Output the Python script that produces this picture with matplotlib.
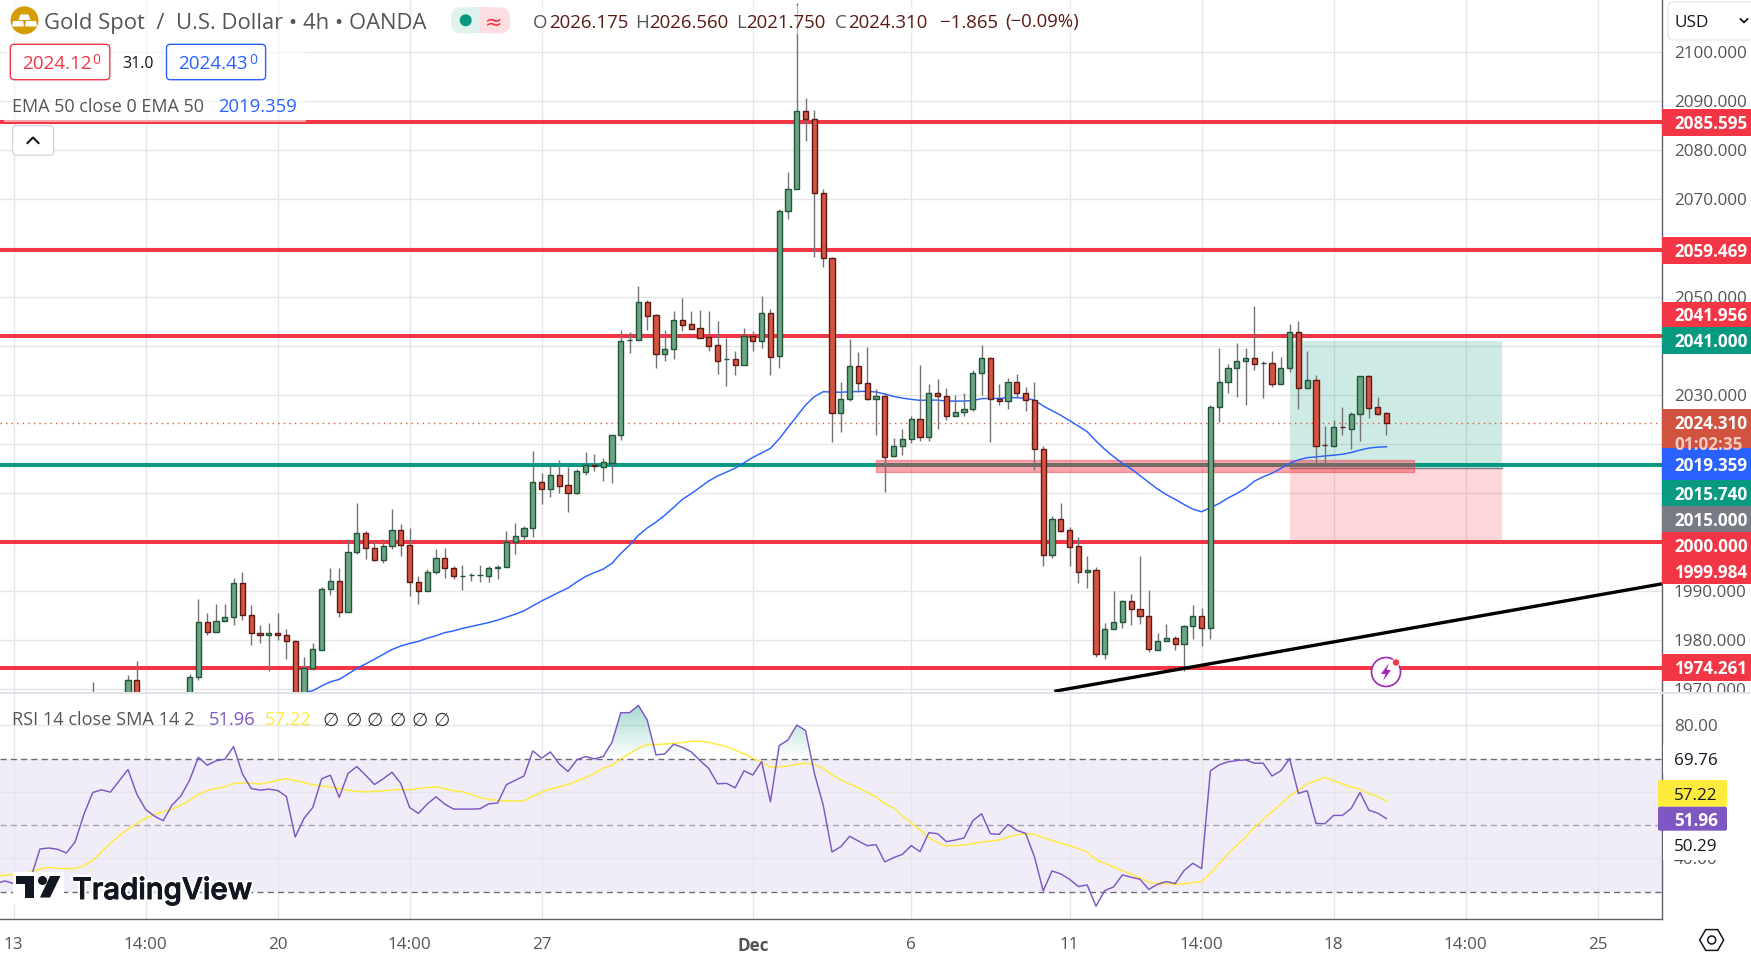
##Gold spot 4h chart, TradingView style
import numpy as np
import matplotlib as mpl
mpl.use("Agg")
import matplotlib.pyplot as plt
from matplotlib.patches import Rectangle, Circle, Polygon, FancyBboxPatch, RegularPolygon
from matplotlib.path import Path
from matplotlib.transforms import Affine2D
import matplotlib.patheffects as pe

#-----------------Data----------------------------------------------
bar_num = [9, 13, 14, 20] + list(range(21, 157))

opens = [1966, 1966, 1971.7, 1965,
 1972.3, 1983.55, 1981.5, 1983.75, 1984.6, 1991.5, 1985.0, 1981.3, 1980.9, 1981.3,
 1980.9, 1979.7, 1966, 1974.2, 1978.0, 1990.3, 1991.9, 1985.6, 1997.8, 2001.7,
 1998.65, 1996.3, 1999.05, 2002.3, 1999.25, 1991.85, 1990.0, 1993.75, 1996.6, 1994.6,
 1992.95, 1993.15, 1993.15, 1993.1, 1994.6, 1994.8, 1999.9, 2001.1, 2002.75, 2012.1,
 2010.8, 2013.55, 2011.5, 2010.0, 2014.3, 2015.6, 2015.3, 2016.1, 2021.7, 2041.1,
 2041.1, 2048.85, 2046.2, 2038.4, 2039.25, 2045.2, 2044.35, 2043.55, 2041.7, 2040.1,
 2037.2, 2037.2, 2036.1, 2041.9, 2041.0, 2046.6, 2037.8, 2067.4, 2071.9, 2087.85,
 2086.2, 2071.1, 2057.8, 2026.2, 2029.05, 2035.8, 2032.3, 2029.05, 2029.65, 2017.4,
 2019.45, 2020.9, 2025.0, 2021.3, 2030.3, 2029.7, 2025.6, 2026.4, 2027.0, 2034.4,
 2037.4, 2029.05, 2028.65, 2032.5, 2030.3, 2028.85, 2018.85, 1997.35, 2004.55, 2002.3,
 1999.05, 1993.75, 1994.15, 1977.0, 1982.1, 1983.55, 1987.8, 1986.2, 1984.75, 1978.0,
 1979.65, 1980.3, 1979.05, 1982.7, 1984.75, 1982.3, 2027.55, 2032.5, 2035.4, 2036.8,
 2037.4, 2036.4, 2036.4, 2032.25, 2035.4, 2042.75, 2031.45, 2032.95, 2019.7, 2019.6,
 2023.4, 2023.05, 2026.0, 2033.75, 2027.4, 2026.175]

highs = [1971.4, 1972.8, 1975.6, 1973.1,
 1988.3, 1985.4, 1987.3, 1987.3, 1992.5, 1993.75, 1987.1, 1983.0, 1983.4, 1985.4,
 1982.2, 1979.9, 1976.5, 1979.3, 1990.7, 1994.6, 1994.6, 2000.5, 2007.9, 2002.2,
 2000.1, 2000.5, 2006.7, 2003.6, 2002.8, 1993.0, 1994.35, 1998.5, 1998.7, 1995.0,
 1995.25, 1993.55, 1995.25, 1995.0, 1995.25, 2002.2, 2003.8, 2003.2, 2018.5, 2014.0,
 2015.6, 2016.7, 2015.25, 2014.8, 2018.3, 2017.9, 2017.1, 2021.7, 2043.2, 2042.8,
 2052.2, 2049.3, 2046.5, 2043.2, 2047.1, 2049.75, 2047.1, 2047.3, 2047.1, 2045.05,
 2041.55, 2038.9, 2043.6, 2043.0, 2050.15, 2047.5, 2067.85, 2075.4, 2110.0, 2090.55,
 2088.1, 2072.0, 2058.1, 2032.6, 2041.4, 2038.7, 2039.75, 2031.1, 2030.3, 2021.1,
 2023.0, 2025.6, 2036.0, 2032.2, 2033.15, 2031.3, 2029.9, 2030.3, 2035.0, 2040.15,
 2037.6, 2032.2, 2033.35, 2034.15, 2031.5, 2032.5, 2019.45, 2005.15, 2008.0, 2002.9,
 2000.9, 1997.1, 1994.75, 1983.35, 1989.85, 1988.2, 1989.25, 1997.0, 1990.05, 1981.3,
 1983.15, 1980.7, 1982.9, 1987.0, 1986.4, 2028.0, 2039.5, 2036.25, 2040.55, 2039.45,
 2048.1, 2036.9, 2038.9, 2037.7, 2044.45, 2045.05, 2038.9, 2034.05, 2023.6, 2024.85,
 2027.5, 2026.5, 2033.75, 2034.0, 2029.5, 2026.56]

lows = [1960, 1962, 1963, 1962,
 1971.8, 1981.0, 1981.5, 1983.75, 1983.1, 1983.95, 1979.0, 1979.4, 1973.7, 1980.0,
 1976.1, 1960, 1960, 1973.9, 1978.0, 1989.2, 1984.6, 1985.6, 1997.5, 1996.5,
 1996.1, 1995.65, 1998.6, 1997.1, 1988.9, 1987.3, 1990.0, 1993.4, 1992.6, 1992.3,
 1990.2, 1992.05, 1991.8, 1991.8, 1992.4, 1994.8, 1997.5, 2000.4, 2001.0, 2007.7,
 2009.1, 2010.0, 2006.05, 2009.7, 2013.6, 2014.4, 2012.4, 2012.05, 2020.75, 2038.5,
 2041.1, 2043.2, 2035.45, 2036.9, 2037.3, 2043.0, 2043.5, 2041.65, 2038.9, 2034.2,
 2031.8, 2034.0, 2036.1, 2038.9, 2039.5, 2034.0, 2035.5, 2065.9, 2071.9, 2081.8,
 2058.1, 2056.1, 2020.35, 2022.4, 2028.8, 2030.6, 2028.85, 2021.8, 2010.2, 2017.2,
 2017.6, 2020.1, 2020.5, 2020.5, 2022.95, 2024.8, 2025.6, 2025.6, 2026.6, 2029.9,
 2020.35, 2028.0, 2027.15, 2029.5, 2026.75, 2014.6, 1995.1, 1996.75, 2002.05, 1995.1,
 1991.65, 1990.6, 1976.55, 1976.15, 1982.1, 1982.45, 1983.05, 1983.15, 1977.55, 1978.0,
 1979.65, 1978.0, 1973.55, 1980.05, 1978.8, 1980.05, 2024.35, 2030.35, 2029.6, 2027.9,
 2035.05, 2029.3, 2031.55, 2032.25, 2034.65, 2027.1, 2031.45, 2015.85, 2015.85, 2019.4,
 2021.75, 2018.9, 2020.55, 2025.2, 2025.85, 2021.75]

closes = [1967, 1971.7, 1964, 1972.3,
 1983.55, 1981.5, 1983.75, 1984.6, 1991.5, 1985.0, 1981.3, 1980.9, 1981.3, 1980.9,
 1979.7, 1966, 1974.2, 1978.0, 1990.3, 1991.9, 1985.6, 1997.8, 2001.7, 1998.65,
 1996.3, 1999.05, 2002.3, 1999.25, 1991.85, 1990.0, 1993.75, 1996.6, 1994.6, 1992.95,
 1992.95, 1993.2, 1993.2, 1994.55, 1994.8, 1999.9, 2001.1, 2002.75, 2012.1, 2010.8,
 2013.55, 2011.45, 2010.0, 2014.35, 2015.6, 2015.4, 2016.2, 2021.7, 2040.9, 2041.15,
 2048.85, 2046.1, 2038.4, 2039.25, 2045.2, 2044.3, 2043.5, 2041.65, 2040.0, 2036.95,
 2037.25, 2036.1, 2041.9, 2041.0, 2046.6, 2037.75, 2067.4, 2071.9, 2087.85, 2086.2,
 2071.1, 2057.8, 2026.2, 2029.05, 2035.8, 2032.3, 2029.05, 2029.65, 2017.35, 2019.45,
 2020.9, 2025.0, 2021.3, 2030.3, 2029.7, 2025.6, 2026.4, 2027.0, 2034.4, 2037.4,
 2029.05, 2028.65, 2032.5, 2030.3, 2028.85, 2018.85, 1997.35, 2004.55, 2002.25, 1999.0,
 1993.75, 1994.15, 1977.0, 1982.1, 1983.55, 1987.8, 1986.2, 1984.75, 1978.0, 1979.65,
 1980.3, 1979.05, 1982.7, 1984.75, 1982.3, 2027.55, 2032.5, 2035.4, 2036.8, 2037.4,
 2036.2, 2036.45, 2032.25, 2035.4, 2042.75, 2031.45, 2032.95, 2019.6, 2019.65, 2023.35,
 2023.35, 2026.0, 2033.75, 2027.35, 2026.15, 2024.31]

ema_first_bar = 32
ema_values = [1968.5, 1969.2, 1969.6, 1970.55, 1971.4, 1971.9, 1973.0, 1974.15, 1975.05, 1976.0,
 1977.0, 1978.0, 1978.7, 1979.25, 1979.65, 1980.3, 1980.8, 1981.45, 1981.8, 1982.3,
 1982.7, 1983.1, 1983.5, 1984.0, 1984.6, 1985.2, 1985.9, 1986.9, 1987.9, 1988.8,
 1989.7, 1990.55, 1991.8, 1992.9, 1993.7, 1994.4, 1995.6, 1997.6, 1999.3, 2001.3,
 2002.8, 2004.0, 2005.4, 2007.0, 2008.65, 2009.8, 2011.1, 2012.4, 2013.4, 2014.2,
 2015.0, 2016.1, 2017.2, 2018.1, 2019.05, 2021.0, 2023.3, 2025.6, 2027.9, 2029.6,
 2030.6, 2030.55, 2030.5, 2030.6, 2030.65, 2030.7, 2030.55, 2030.15, 2029.65, 2029.3,
 2029.05, 2028.85, 2028.9, 2028.9, 2028.7, 2028.7, 2028.7, 2028.8, 2029.2, 2029.25,
 2029.25, 2029.4, 2029.4, 2029.25, 2028.9, 2027.7, 2026.75, 2025.8, 2024.7, 2023.6,
 2022.45, 2020.55, 2018.85, 2017.35, 2016.0, 2014.85, 2013.5, 2012.1, 2010.75, 2009.6,
 2008.65, 2007.6, 2006.65, 2006.1, 2006.95, 2007.8, 2008.9, 2009.85, 2010.9, 2012.35,
 2013.25, 2013.95, 2014.95, 2016.0, 2016.7, 2017.15, 2017.3, 2017.5, 2017.65, 2017.85,
 2018.2, 2018.7, 2019.1, 2019.3, 2019.36]

rsi_first_bar = -2
rsi_values = [32.4, 33.2, 32.4, 31.5, 34.5, 42.8, 43.1, 42.7, 41.6, 45.0,
 53.3, 59.8, 60.6, 59.9, 63.3, 66.7, 59.3, 54.7, 52.7, 51.3,
 56.0, 58.7, 63.5, 70.4, 68.0, 69.3, 69.8, 73.6, 65.4, 61.0,
 60.5, 60.8, 60.4, 58.6, 46.4, 52.0, 55.3, 63.9, 65.0, 58.3,
 65.5, 67.6, 65.0, 62.2, 63.9, 65.9, 62.5, 55.3, 53.5, 56.3,
 58.5, 56.3, 54.8, 54.8, 54.8, 54.9, 56.4, 56.6, 62.15, 63.45,
 64.75, 72.3, 70.1, 72.0, 68.4, 66.1, 69.6, 70.6, 69.9, 70.6,
 74.9, 83.8, 83.8, 86.0, 81.6, 71.1, 71.4, 74.3, 73.4, 72.0,
 69.4, 67.0, 62.4, 62.55, 61.2, 66.3, 65.05, 69.1, 57.0, 73.9,
 75.6, 80.1, 78.4, 65.55, 56.0, 41.9, 43.5, 46.6, 45.2, 43.8,
 44.1, 38.9, 40.2, 41.2, 43.8, 42.0, 47.7, 47.4, 45.0, 45.5,
 46.1, 51.3, 53.4, 47.4, 47.2, 50.2, 48.4, 47.5, 40.5, 30.2,
 36.2, 35.3, 33.7, 31.5, 32.0, 25.6, 30.3, 31.4, 35.0, 34.3,
 33.7, 30.65, 32.2, 33.0, 32.4, 36.3, 38.5, 36.9, 66.3, 68.1,
 69.0, 69.4, 69.6, 68.6, 68.6, 64.75, 66.3, 70.0, 59.5, 60.35,
 50.5, 50.4, 52.9, 52.9, 55.0, 59.8, 54.5, 53.6, 51.96]

sma_values = [34.5, 34.9, 35.2, 35.3, 35.9, 36.8, 37.2, 37.0, 36.9, 36.9,
 37.8, 39.4, 42.0, 44.5, 46.9, 48.7, 50.5, 52.0, 53.2, 54.0,
 54.8, 56.0, 57.5, 59.2, 60.4, 61.0, 61.5, 62.5, 62.7, 62.6,
 62.3, 62.8, 63.5, 64.0, 63.4, 62.8, 62.1, 61.7, 61.5, 60.9,
 60.5, 60.1, 60.0, 60.1, 60.3, 60.6, 60.7, 60.6, 61.0, 61.3,
 61.5, 60.9, 60.3, 60.0, 59.2, 58.3, 57.7, 57.4, 57.3, 57.2,
 57.3, 58.7, 59.9, 60.9, 61.5, 62.2, 63.3, 64.3, 65.5, 67.1,
 68.0, 69.9, 71.6, 73.1, 74.3, 74.2, 74.4, 74.6, 74.8, 75.2,
 75.2, 74.9, 74.2, 73.6, 72.5, 71.4, 70.1, 68.9, 67.4, 67.5,
 67.8, 68.3, 68.6, 68.2, 67.1, 65.05, 63.55, 62.35, 61.25, 59.75,
 58.5, 56.4, 55.2, 52.7, 50.7, 48.5, 46.2, 44.7, 43.7, 43.8,
 44.0, 44.4, 44.9, 45.2, 45.5, 46.4, 47.0, 47.4, 47.2, 46.2,
 45.3, 44.5, 43.8, 42.9, 41.9, 39.5, 38.5, 37.3, 36.3, 35.2,
 34.1, 32.8, 32.4, 32.4, 32.2, 32.3, 32.7, 33.0, 35.5, 38.5,
 41.3, 43.9, 46.4, 49.3, 51.7, 54.0, 56.3, 58.7, 60.5, 62.35,
 63.35, 64.35, 63.35, 62.35, 61.45, 60.75, 59.55, 58.55, 57.22]

red_levels = [2085.595, 2059.469, 2041.956, 2000.0, 1974.261]
teal_level = 2015.74
last_price = 2024.31

zone_bars = [98.0, 159.1]
zone_prices = [2014.3, 2016.6]
position_bars = [145.0, 169.1]
position_target = 2041.0
position_entry = 2015.0
position_stop = 2000.0
trend_bars = [118.26, 187.3]
trend_prices = [1969.47, 1991.4]

price_ticks = list(range(1970, 2101, 10))
price_shown = [2100, 2090, 2080, 2070, 2050, 2030, 1990, 1980, 1970]   #rest sit under the badges
rsi_ticks = [40, 80]
rsi_grid = [40, 60, 80]
rsi_bands = [70, 50, 30]
date_bars = [0, 15, 30, 45, 60, 84, 102, 120, 135, 150, 165, 180]
date_labels = ['13', '14:00', '20', '14:00', '27', 'Dec', '6', '11', '14:00', '18', '14:00', '25']

#----------------Colours--------------------------------------------
FONT = 'Open Sans'
RED = '#F23645'
TEAL = '#089981'
BLUE = '#2962FF'
PURPLE = '#7E57C2'
YELLOW = '#FFEB3B'
GRID = '#E6E6E8'
AXIS = '#5D606B'
LABEL = '#555555'
plt.rcParams['font.family'] = FONT

W, H = 1751, 960
X_AXIS, MAIN_B, RSI_T, RSI_B = 1662, 692, 694, 919

fig = plt.figure(figsize=(W/100, H/100), dpi=100, facecolor='white')
px = Affine2D().scale(1/W, -1/H).translate(0, 1) + fig.transFigure   #pixel coords for the chrome

def addRect(x0, y0, x1, y1, color, z=5, **kw):
    fig.add_artist(Rectangle((x0, y0), x1-x0, y1-y0, transform=px, facecolor=color, edgecolor='none', zorder=z, **kw))

def addRound(x0, y0, x1, y1, face, edge, r=4, z=5, lw=0.8):
    fig.add_artist(FancyBboxPatch((x0, y0), x1-x0, y1-y0, boxstyle='round,pad=0,rounding_size=%s' % r,
                                  transform=px, facecolor=face, edgecolor=edge, linewidth=lw, zorder=z))

def addText(x, y, s, size=12.3, color=LABEL, ha='left', z=6, **kw):
    return fig.text(x, y, s, transform=px, fontsize=size, color=color, ha=ha, va='center_baseline', zorder=z, **kw)

#----------------Main pane-------------------------------------------
bar_to_x = lambda p: (p-13.6)/8.8
ax = fig.add_axes([0, 1-MAIN_B/H, X_AXIS/W, MAIN_B/H], zorder=0)
ax.set_xlim(bar_to_x(0), bar_to_x(X_AXIS))
ax.set_ylim(2100-(MAIN_B-51.7)/4.9, 2100+51.7/4.9)

ax.set_xticks(date_bars)
ax.set_xticklabels([])
ax.set_yticks(price_ticks)
ax.set_yticklabels(['%.3f' % t if t in price_shown else '' for t in price_ticks])
ax.grid(True, color=GRID, linewidth=1.0, zorder=0)
ax.set_axisbelow(True)
ax.yaxis.tick_right()
ax.tick_params(axis='y', length=0, pad=8.6, labelsize=12.3, labelcolor=LABEL)
ax.tick_params(axis='x', length=0)
for side in ['top', 'left', 'bottom']:
    ax.spines[side].set_visible(False)
ax.spines['right'].set_color(AXIS)
ax.spines['right'].set_linewidth(1.0)

#long position box
ax.add_patch(Rectangle((position_bars[0], position_entry), position_bars[1]-position_bars[0], position_target-position_entry,
                       facecolor=TEAL, alpha=0.2, edgecolor='none', zorder=1.2))
ax.add_patch(Rectangle((position_bars[0], position_stop), position_bars[1]-position_bars[0], position_entry-position_stop,
                       facecolor=RED, alpha=0.2, edgecolor='none', zorder=1.2))
ax.plot(position_bars, [position_entry, position_entry], color='#787B86', lw=1.0, zorder=1.3)

for level in red_levels:
    ax.axhline(level, color=RED, lw=2.9, zorder=2, solid_capstyle='butt')
ax.axhline(teal_level, color=TEAL, lw=2.9, zorder=2, solid_capstyle='butt')
ax.axhline(last_price, color='#E4553F', lw=1.0, ls=(0, (1, 3)), zorder=2)

ax.add_patch(Rectangle((zone_bars[0], zone_prices[0]), zone_bars[1]-zone_bars[0], zone_prices[1]-zone_prices[0],
                       facecolor=RED, alpha=0.45, edgecolor=RED, linewidth=0.9, zorder=2.5))

ema_x = np.arange(ema_first_bar, ema_first_bar+len(ema_values))
ax.plot(ema_x, ema_values, color=BLUE, lw=1.05, zorder=3)

#candles
bar_x = np.array(bar_num)
o, h, l, c = map(np.array, (opens, highs, lows, closes))
up = c >= o
ax.vlines(bar_x, l, h, color='#737375', lw=1.0, zorder=4)
ax.bar(bar_x[up], (c-o)[up], bottom=o[up], width=0.58, color='#6BA583', edgecolor='#225437', linewidth=1.0, zorder=5)
ax.bar(bar_x[~up], (c-o)[~up], bottom=o[~up], width=0.58, color='#D75442', edgecolor='#5B1A13', linewidth=1.0, zorder=5)

ax.plot(trend_bars, trend_prices, color='black', lw=2.4, zorder=6, solid_capstyle='butt')

#----------------RSI pane--------------------------------------------
rsi_y = lambda p: 80-(p-725.3)/3.325
axr = fig.add_axes([0, 1-RSI_B/H, X_AXIS/W, (RSI_B-RSI_T)/H], zorder=2)
axr.set_xlim(ax.get_xlim())
axr.set_ylim(rsi_y(RSI_B), rsi_y(RSI_T))
axr.set_xticks(date_bars)
axr.set_xticklabels(date_labels)
for lab in axr.get_xticklabels():
    if lab.get_text() == 'Dec':
        lab.set_fontweight('bold')
axr.set_yticks(rsi_grid)
axr.set_yticklabels(['%.2f' % t if t in rsi_ticks else '' for t in rsi_grid])
axr.grid(True, color=GRID, linewidth=1.0, zorder=0)
axr.set_axisbelow(True)
axr.yaxis.tick_right()
axr.tick_params(axis='y', length=0, pad=8.6, labelsize=12.3, labelcolor=LABEL)
axr.tick_params(axis='x', length=0, pad=13, labelsize=12.3, labelcolor=LABEL)
for side in ['top', 'left']:
    axr.spines[side].set_visible(False)
for side in ['right', 'bottom']:
    axr.spines[side].set_color(AXIS)
    axr.spines[side].set_linewidth(1.0)

axr.axhspan(rsi_bands[2], rsi_bands[0], facecolor=PURPLE, alpha=0.1, edgecolor='none', zorder=0.5)
for band, col in zip(rsi_bands, ['#6E6C7A', '#A5A3B0', '#6E6C7A']):
    axr.axhline(band, color=col, lw=1.0, ls=(0, (4.4, 3)), zorder=1)

rsi_x = np.arange(rsi_first_bar, rsi_first_bar+len(rsi_values))
rsi_arr = np.array(rsi_values)

def gradientFill(where, lim, edge):
    '''fills the rsi line beyond a band with a fading green'''
    poly = axr.fill_between(rsi_x, rsi_arr, lim, where=where, interpolate=True, facecolor='none', linewidth=0)
    grad = np.zeros((64, 1, 4))
    grad[..., :3] = mpl.colors.to_rgb(TEAL)
    grad[:, 0, 3] = np.linspace(0, 0.45, 64)
    im = axr.imshow(grad, extent=[rsi_x[0], rsi_x[-1], lim, edge], origin='lower', aspect='auto', zorder=1.5)
    im.set_clip_path(Path.make_compound_path(*poly.get_paths()), transform=axr.transData)

gradientFill(rsi_arr > 70, 70, 90)
axr.set_xlim(ax.get_xlim())
axr.set_ylim(rsi_y(RSI_B), rsi_y(RSI_T))

axr.plot(rsi_x, sma_values, color=YELLOW, lw=1.05, zorder=3)
axr.plot(rsi_x, rsi_values, color=PURPLE, lw=1.05, zorder=3.5)

#----------------Frame and right column-------------------------------
addRect(X_AXIS+1, MAIN_B, W, RSI_B, 'white', z=1)
addRect(0, MAIN_B, W, RSI_T, '#E0E3EB', z=3)

#overlays that wash out what sits below the legends
addRect(4, 0, 306, 122, 'white', z=1, alpha=0.55)
addRect(530, 6, 1080, 34, 'white', z=1, alpha=0.55)

#price badges
badges = [(109, 135.7, RED, '2085.595'), (237, 263.7, RED, '2059.469'), (302, 326.7, RED, '2041.956'),
          (326.7, 354, TEAL, '2041.000'), (447.7, 480, BLUE, '2019.359'), (480, 506, TEAL, '2015.740'),
          (506, 532, '#787B86', '2015.000'), (532, 558, RED, '2000.000'), (558, 584, RED, '1999.984'),
          (654, 680.7, RED, '1974.261')]
for y0, y1, col, txt in badges:
    addRect(X_AXIS, y0, W, y1, col)
    addText(1674, (y0+y1)/2, txt, color='white', fontweight='bold')
addRect(X_AXIS, 409, W, 447.7, '#D1533F')
addText(1674, 422, '2024.310', color='white', fontweight='bold')
addText(1674, 443, '01:02:35', color='#F6C9C2', fontweight='bold')

#rsi badges
addRect(X_AXIS+1, 745, W, 773, 'white', z=4)
addRect(X_AXIS+1, 832, W, 860, 'white', z=4)
addText(1674, 759, '69.76', color='#131722')
addText(1674, 845, '50.29', color='#131722')
addRound(X_AXIS-4, 780, 1727, 806.7, YELLOW, 'none', r=2)
addRound(X_AXIS-4, 806.7, 1727, 830.7, PURPLE, 'none', r=2)
addText(1674, 793.5, '57.22', color='#131722')
addText(1674, 819, '51.96', color='white', fontweight='bold')

#usd box
addRound(1668, 2, 1760, 40, 'white', '#E0E3EB', r=5)
addText(1674, 21, 'USD', color='#131722', size=12.3)
fig.add_artist(plt.Line2D([1740.5, 1744, 1747.5], [19, 22.5, 19], transform=px, color='#131722', lw=1.3, zorder=6))

#settings hexagon
fig.add_artist(RegularPolygon((1711.7, 940), 6, radius=12, orientation=np.pi/6, transform=px,
                              facecolor='white', edgecolor='#131722', lw=1.1, zorder=6))
fig.add_artist(Circle((1711.7, 940), 4, transform=px, facecolor='white', edgecolor='#131722', lw=1.1, zorder=6))

#----------------Legend, top left-------------------------------------
fig.add_artist(Circle((24.5, 20.3), 14, transform=px, facecolor='#D39E07', edgecolor='none', zorder=6))
for pts in ([(20.5, 14.5), (28.5, 14.5), (30.5, 20), (18.5, 20)],
            [(13, 21), (23, 21), (24, 26.5), (12, 26.5)],
            [(26, 21), (36, 21), (37, 26.5), (25, 26.5)]):
    fig.add_artist(Polygon(pts, closed=True, transform=px, facecolor='white', edgecolor='none', zorder=7))

addText(44, 20.5, 'Gold Spot  /  U.S. Dollar • 4h • OANDA', size=15.85, color='#555555')

addRound(451, 7.3, 480, 33.3, '#E0F2EE', 'none', r=10)
addRound(480, 7.3, 510, 33.3, '#FCDDE1', 'none', r=10)
addRect(470, 7.3, 480, 33.3, '#E0F2EE', z=5)
addRect(480, 7.3, 490, 33.3, '#FCDDE1', z=5)
fig.add_artist(Circle((465.7, 20.3), 6, transform=px, facecolor=TEAL, edgecolor='none', zorder=6))
addText(494, 20.3, '≈', size=15, color=RED, ha='center', fontfamily='DejaVu Sans')

MAROON = '#5A1A14'
for x, txt, col in [(533, 'O', LABEL), (549, '2026.175', MAROON), (635, 'H', LABEL), (649, '2026.560', MAROON),
                    (736, 'L', LABEL), (746, '2021.750', MAROON), (835, 'C', LABEL), (848, '2024.310', MAROON),
                    (940, '−1.865', MAROON), (1005, '(−0.09%)', MAROON)]:
    addText(x, 20.5, txt, size=13.4, color=col)

addRound(10.3, 44.3, 109.8, 79.7, 'white', RED, r=4, lw=1.0)
addText(21.8, 62, '2024.12', size=13.6, color=RED)
addText(92.5, 59, '0', size=10, color=RED)
addText(122.5, 62, '31.0', size=11.5, color='#131722')
addRound(166.5, 44.3, 265.6, 79.7, 'white', BLUE, r=4, lw=1.0)
addText(178.3, 62, '2024.43', size=13.6, color=BLUE)
addText(249, 59, '0', size=10, color=BLUE)

addText(11.5, 104.7, 'EMA 50 close 0 EMA 50', size=13.0, color='#555555')
addText(218, 104.7, '2019.359', size=13.3, color=BLUE)

addRound(12.6, 125.7, 53.6, 155.3, 'white', '#D1D4DC', r=4, lw=0.9)
fig.add_artist(plt.Line2D([27.5, 33, 38.5], [143, 137.5, 143], transform=px, color='#131722', lw=1.5, zorder=6))

#----------------Legend, rsi pane-------------------------------------
addText(11.5, 718.3, 'RSI 14 close SMA 14 2', size=13.1, color='#555555')
addText(208.6, 718.3, '51.96', size=13.2, color=PURPLE)
addText(265, 718.3, '57.22', size=13.2, color=YELLOW)
for x in [323, 345.6, 367, 389.6, 411.4, 433.6]:
    addText(x, 718.3, '∅', size=13.5, color='#333333', fontfamily='DejaVu Sans')

#----------------TradingView mark--------------------------------------
addRect(13, 872, 64, 904, 'white', z=3.5)
for pts in ([(16, 876), (34, 876), (34, 897.5), (25.3, 897.5), (25.3, 883.5), (16, 883.5)],
            [(50, 876), (60.5, 876), (50, 897.5), (40, 897.5)]):
    fig.add_artist(Polygon(pts, closed=True, transform=px, facecolor='#131722', edgecolor='none', zorder=6))
fig.add_artist(Circle((42.5, 880.5), 4.5, transform=px, facecolor='#131722', edgecolor='none', zorder=6))
logo = addText(72.5, 888, 'TradingView', size=21.3, color='#131722', fontfamily='Inter', fontweight='medium')
logo.set_path_effects([pe.withStroke(linewidth=4, foreground='white'),
                       pe.withStroke(linewidth=0.7, foreground='#131722')])

#----------------Alert badge-------------------------------------------
fig.add_artist(Circle((1386, 672), 14.5, transform=px, facecolor='white', edgecolor='#9C27B0', lw=1.2, zorder=6))
fig.add_artist(Polygon([(1389, 663), (1381, 674), (1385.5, 674), (1383, 681), (1391, 670), (1386.5, 670)], closed=True,
                       transform=px, facecolor='#9C27B0', edgecolor='none', zorder=7))
fig.add_artist(Circle((1396, 662.5), 3.8, transform=px, facecolor=RED, edgecolor='white', lw=0.8, zorder=8))

fig.savefig('out.png', dpi=100, facecolor='white')
